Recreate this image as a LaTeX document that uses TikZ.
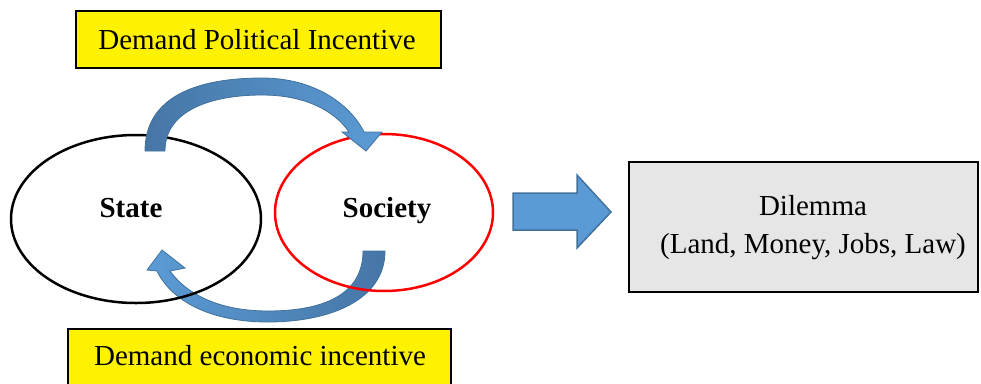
\documentclass[tikz,border=0pt]{standalone}
\usepackage{fontspec}
\setmainfont{Liberation Serif}
\usetikzlibrary{shapes.geometric}
\definecolor{arrowfill}{HTML}{5B9BD5}
\definecolor{arrowdark}{HTML}{4676A6}
\definecolor{arrowline}{HTML}{41719C}
\definecolor{boxgray}{HTML}{E6E6E6}
\tikzset{
  txt/.style={font=\fontsize{29}{38}\selectfont, inner sep=0pt, align=center},
  bold/.style={font=\fontsize{29}{34}\selectfont\bfseries, inner sep=0pt},
  yellowbox/.style={draw=black, line width=1.5pt, fill=yellow},
  oval/.style={ellipse, line width=2.5pt, inner sep=0pt},
  curved/.style={draw=arrowline, line width=0.8pt},
  block/.style={draw=arrowline, line width=1.5pt, fill=arrowfill}
}
\begin{document}
\begin{tikzpicture}[x=1pt, y=-1pt]
\useasboundingbox (0,0) rectangle (981,383);

% top yellow label
\node[yellowbox, minimum width=365pt, minimum height=57pt, inner sep=0pt] (pol) at (258.5,39.5) {};
\node[txt] (poltxt) at (257,40) {Demand Political Incentive};

% bottom yellow label
\node[yellowbox, minimum width=383pt, minimum height=60pt, inner sep=0pt, anchor=north] (eco) at (259.5,328) {};
\node[txt] (ecotxt) at (260,356) {Demand economic incentive};

% bottom curved arrow (below ellipses)
\path[curved, left color=arrowfill, right color=arrowdark]
  (385,251) .. controls (385,300) and (330,322) .. (268,322)
  .. controls (212,322) and (172,302) .. (157,271)
  -- (147,270) -- (162,250) -- (185,268) -- (170,271)
  .. controls (188,296) and (222,311) .. (268,311)
  .. controls (328,311) and (363,292) .. (363,251) -- cycle;

% ellipses
\node[oval, draw=black, minimum width=250pt, minimum height=168pt] (state) at (136,219) {};
\node[oval, draw=red, minimum width=218pt, minimum height=157pt] (society) at (384,212.5) {};
\node[bold] (statetxt) at (131,208) {State};
\node[bold] (societytxt) at (387,211) {Society};

% top curved arrow (above ellipses)
\path[curved, left color=arrowdark, right color=arrowfill]
  (145,151) .. controls (145,95) and (200,78) .. (262,78)
  .. controls (314,78) and (350,104) .. (364,132)
  -- (382,132) -- (366,151) -- (342,132) -- (349,132)
  .. controls (334,110) and (304,95) .. (262,95)
  .. controls (212,95) and (165,110) .. (165,151) -- cycle;

% block arrow
\draw[block] (513,193) -- (577,193) -- (577,175) -- (611,212) -- (577,248) -- (577,230) -- (513,230) -- cycle;

% dilemma box
\node[draw=black, line width=2.5pt, fill=boxgray, minimum width=349pt, minimum height=130pt, inner sep=0pt] (dil) at (803.5,227) {};
\node[txt] (diltxt) at (813,228) {Dilemma\\(Land, Money, Jobs, Law)};
\end{tikzpicture}
\end{document}
